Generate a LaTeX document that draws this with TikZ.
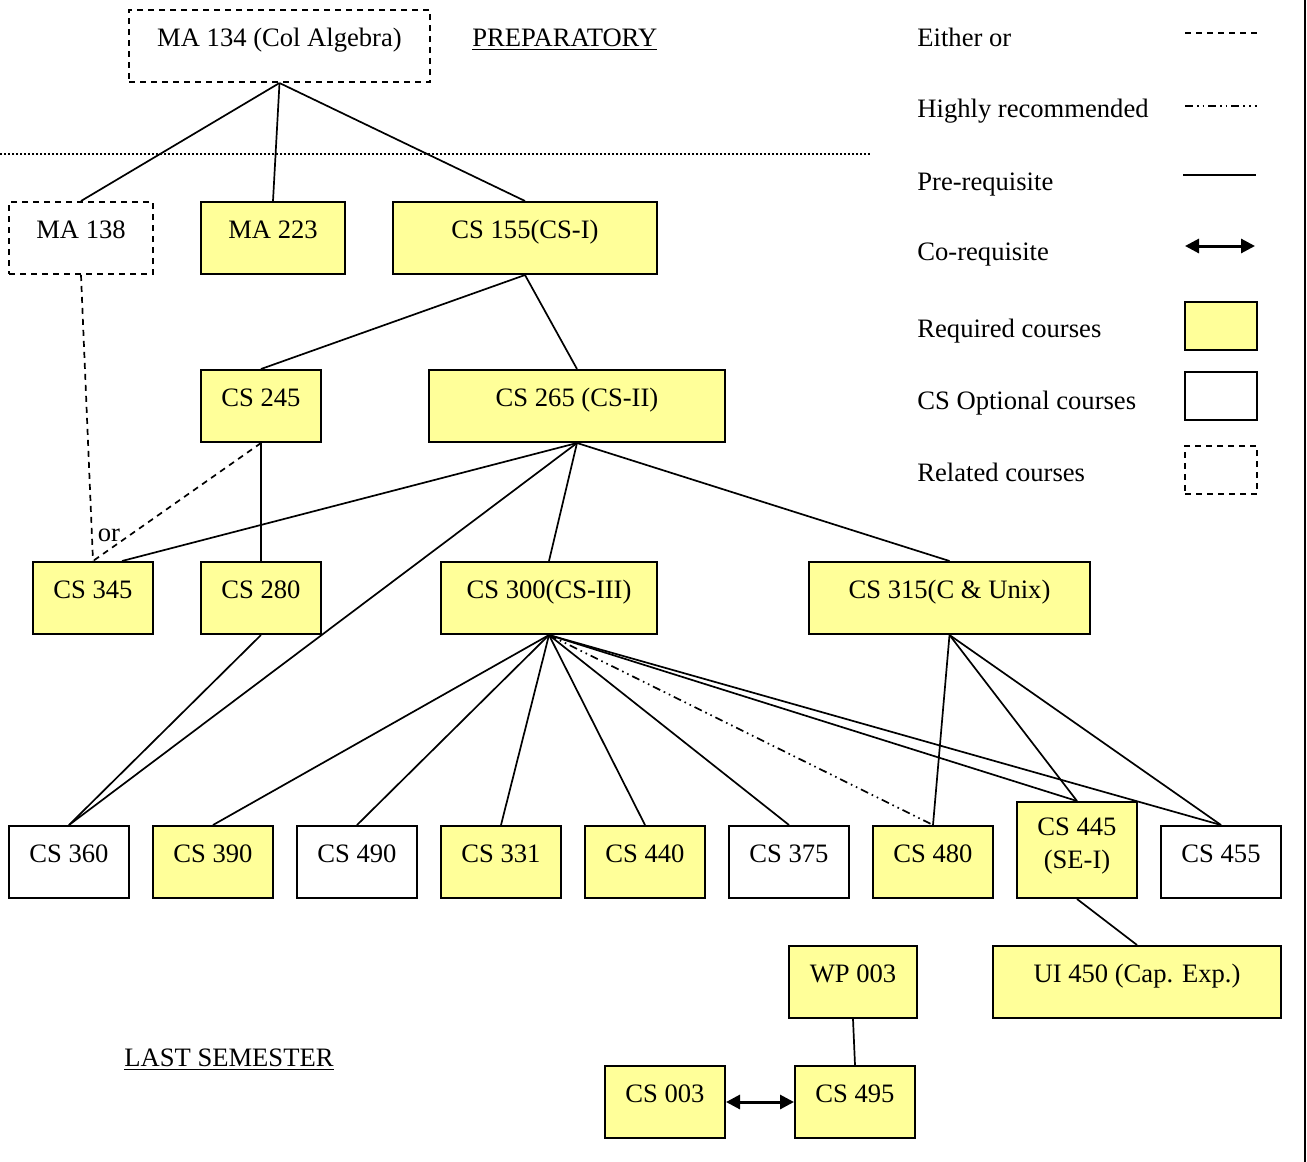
\documentclass[tikz,border=0pt]{standalone}
\usepackage{fontspec}
\setmainfont{Liberation Serif}
\usetikzlibrary{arrows.meta}
\definecolor{reqyellow}{RGB}{255,255,153}

\begin{document}
\begin{tikzpicture}[x=0.5pt, y=-0.5pt,
        font=\fontsize{13.3}{16.5}\selectfont,
        course/.style={draw, line width=1pt, inner sep=0pt, minimum height=36pt,
            text height=18pt, text depth=18pt, align=center},
        reqbox/.style={course, fill=reqyellow},
        optbox/.style={course, fill=white},
        relbox/.style={course, dash pattern=on 3pt off 2.5pt},
        prereq/.style={line width=0.85pt},
        eitheror/.style={line width=0.85pt, dash pattern=on 3pt off 2.5pt},
        highrec/.style={line width=0.85pt, dash pattern=on 4pt off 2pt on 0.8pt off 2pt on 0.8pt off 2pt},
        coreq/.style={line width=1.5pt, {Triangle[length=7pt,width=7pt]}-{Triangle[length=7pt,width=7pt]}},
        legtext/.style={anchor=base west, inner sep=0pt}]
    \useasboundingbox (0,0) rectangle (1307,1162);

    % Preparatory
    \node[relbox, minimum width=150.5pt] (ma134) at (279.5,46) {MA 134 (Col Algebra)};
    \node[legtext] (prep) at (472,46) {\underline{PREPARATORY}};
    \draw[line width=0.8pt, dash pattern=on 1pt off 1pt] (0,154) -- (872,154);

    % First year
    \node[relbox, minimum width=72pt] (ma138) at (81,238) {MA 138};
    \node[reqbox, minimum width=72pt] (ma223) at (273,238) {MA 223};
    \node[reqbox, minimum width=132pt] (cs155) at (525,238) {CS 155(CS-I)};

    \node[reqbox, minimum width=60pt] (cs245) at (261,406) {CS 245};
    \node[reqbox, minimum width=148pt] (cs265) at (577,406) {CS 265 (CS-II)};

    \node[reqbox, minimum width=60pt] (cs345) at (93,598) {CS 345};
    \node[reqbox, minimum width=60pt] (cs280) at (261,598) {CS 280};
    \node[reqbox, minimum width=108pt] (cs300) at (549,598) {CS 300(CS-III)};
    \node[reqbox, minimum width=140.5pt] (cs315) at (949.5,598) {CS 315(C \& Unix)};

    % Upper level
    \node[optbox, minimum width=60pt] (cs360) at (69,862) {CS 360};
    \node[reqbox, minimum width=60pt] (cs390) at (213,862) {CS 390};
    \node[optbox, minimum width=60pt] (cs490) at (357,862) {CS 490};
    \node[reqbox, minimum width=60pt] (cs331) at (501,862) {CS 331};
    \node[reqbox, minimum width=60pt] (cs440) at (645,862) {CS 440};
    \node[optbox, minimum width=60pt] (cs375) at (789,862) {CS 375};
    \node[reqbox, minimum width=60pt] (cs480) at (933,862) {CS 480};
    \node[reqbox, minimum width=60pt, minimum height=48pt, text height=33pt, text depth=15pt] (cs445) at (1077,850) {CS 445\\(SE-I)};
    \node[optbox, minimum width=60pt] (cs455) at (1221,862) {CS 455};

    % Last semester
    \node[reqbox, minimum width=64pt] (wp003) at (853,982) {WP 003};
    \node[reqbox, minimum width=144pt] (ui450) at (1137,982) {UI 450 (Cap. Exp.)};
    \node[reqbox, minimum width=60pt] (cs003) at (665,1102) {CS 003};
    \node[reqbox, minimum width=60pt] (cs495) at (855,1102) {CS 495};
    \node[legtext] (last) at (124,1066) {\underline{LAST SEMESTER}};

    % Connectors
    \draw[prereq] (ma134.south) -- (ma138.north);
    \draw[prereq] (ma134.south) -- (ma223.north);
    \draw[prereq] (ma134.south) -- (cs155.north);
    \draw[prereq] (cs155.south) -- (cs245.north);
    \draw[prereq] (cs155.south) -- (cs265.north);
    \draw[eitheror] (ma138.south) -- (cs345.north);
    \draw[eitheror] (cs245.south) -- (cs345.north);
    \node (or) at (109,535) {or};
    \draw[prereq] (cs245.south) -- (cs280.north);
    \draw[prereq] (cs265.south) -- ([xshift=14.5pt]cs345.north);
    \draw[prereq] (cs265.south) -- (cs360.north);
    \draw[prereq] (cs265.south) -- (cs300.north);
    \draw[prereq] (cs265.south) -- (cs315.north);
    \draw[prereq] (cs280.south) -- (cs360.north);
    \foreach \c in {cs390,cs490,cs331,cs440,cs375,cs445,cs455}
        \draw[prereq] (cs300.south) -- (\c.north);
    \draw[highrec] (cs300.south) -- (cs480.north);
    \foreach \c in {cs480,cs445,cs455}
        \draw[prereq] (cs315.south) -- (\c.north);
    \draw[prereq] (cs445.south) -- (ui450.north);
    \draw[prereq] (wp003.south) -- (cs495.north);
    \draw[coreq] (cs003.east) -- (cs495.west);

    % Legend
    \node[legtext] (l1) at (917,46) {Either or};
    \node[legtext] (l2) at (917,117) {Highly recommended};
    \node[legtext] (l3) at (917,190) {Pre-requisite};
    \node[legtext] (l4) at (917,260) {Co-requisite};
    \node[legtext] (l5) at (917,337) {Required courses};
    \node[legtext] (l6) at (917,409) {CS Optional courses};
    \node[legtext] (l7) at (917,481) {Related courses};
    \draw[eitheror] (1185,33) -- (1257,33);
    \draw[highrec] (1185,106) -- (1257,106);
    \draw[prereq] (1183,175) -- (1256,175);
    \draw[coreq] (1185,246) -- (1255,246);
    \node[reqbox, minimum width=36pt, minimum height=24pt, text height=0pt, text depth=0pt] (legreq) at (1221,326) {};
    \node[optbox, minimum width=36pt, minimum height=24pt, text height=0pt, text depth=0pt] (legopt) at (1221,396) {};
    \node[relbox, minimum width=36pt, minimum height=24pt, text height=0pt, text depth=0pt] (legrel) at (1221,470) {};

    % Frame edge
    \draw[line width=1pt] (1305,0) -- (1305,1162);
\end{tikzpicture}
\end{document}
